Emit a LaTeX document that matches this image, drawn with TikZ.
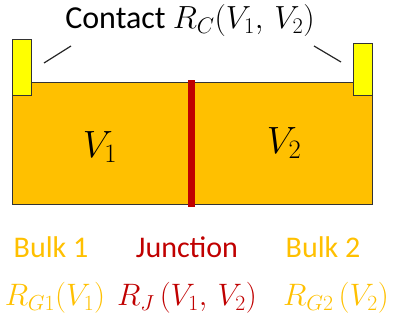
\documentclass[tikz,border=0pt]{standalone}
\usepackage{fix-cm}
\usepackage{fontspec}
\setmainfont{Carlito}
\definecolor{bulk}{HTML}{FFC000}
\definecolor{cont}{HTML}{FFFF00}
\definecolor{junc}{HTML}{C00000}
\definecolor{edge}{HTML}{333333}
\begin{document}
\begin{tikzpicture}[x=1pt,y=-1pt,
  txt/.style={font=\fontsize{30}{36}\selectfont, inner sep=0pt, anchor=center},
  mth/.style={font=\fontsize{31}{36}\selectfont, inner sep=0pt, anchor=center},
  big/.style={font=\fontsize{38}{44}\selectfont, inner sep=0pt, anchor=center},
  box/.style={draw=edge, line width=1pt},
  lead/.style={draw=black!85, line width=1.2pt}]
\useasboundingbox (0,0) rectangle (395,329);
% bulk region
\path[box, fill=bulk] (12,82.5) rectangle (372,204);
% contacts
\path[box, fill=cont] (12,40) rectangle (31,95);
\path[box, fill=cont] (353,43) rectangle (372,95);
% junction
\fill[junc] (188,80) rectangle (195,207);
% labels
\node[txt, font=\fontsize{32}{38}\selectfont] (contact) at (190,21) {Contact $R_C(V_1,\,V_2)$};
\coordinate (l1) at (44,63); \coordinate (l2) at (71,46);
\coordinate (r1) at (314,46); \coordinate (r2) at (341,62);
\draw[lead] (l1) -- (l2);
\draw[lead] (r1) -- (r2);
\node[big] (v1) at (100,147) {$V_1$};
\node[big] (v2) at (284,143) {$V_2$};
\node[txt, text=bulk] (b1) at (51,247) {Bulk 1};
\node[txt, text=junc] (jn) at (187,247) {Junction};
\node[txt, text=bulk] (b2) at (323,247) {Bulk 2};
\node[mth, text=bulk] (rg1) at (55,298) {$R_{G1}(V_1)$};
\node[mth, text=junc] (rj) at (187,298) {$R_J\,(V_1,\,V_2)$};
\node[mth, text=bulk] (rg2) at (336,298) {$R_{G2}\,(V_2)$};
\end{tikzpicture}
\end{document}
